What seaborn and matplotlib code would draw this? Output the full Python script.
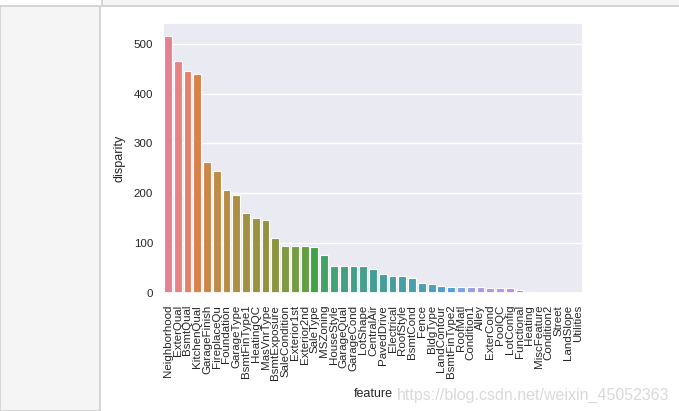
import numpy as np
import pandas as pd
import matplotlib
matplotlib.use("Agg")
import matplotlib.pyplot as plt
from matplotlib.patches import Rectangle
import seaborn as sns

# --------------------------
# Data
# --------------------------
features = ['Neighborhood', 'ExterQual', 'BsmtQual', 'KitchenQual', 'GarageFinish',
            'FireplaceQu', 'Foundation', 'GarageType', 'BsmtFinType1', 'HeatingQC',
            'MasVnrType', 'BsmtExposure', 'SaleCondition', 'Exterior1st', 'Exterior2nd',
            'SaleType', 'MSZoning', 'HouseStyle', 'GarageQual', 'GarageCond',
            'LotShape', 'CentralAir', 'PavedDrive', 'Electrical', 'RoofStyle',
            'BsmtCond', 'Fence', 'BldgType', 'LandContour', 'BsmtFinType2',
            'RoofMatl', 'Condition1', 'Alley', 'ExterCond', 'PoolQC',
            'LotConfig', 'Functional', 'Heating', 'MiscFeature', 'Condition2',
            'Street', 'LandSlope', 'Utilities']
disparity = [516, 466, 446, 439, 262,
             244, 206, 196, 161, 151,
             146, 111, 95, 95, 95,
             93, 76, 54, 54, 54,
             54, 48, 38, 35, 35,
             31, 21, 18, 15, 13,
             13, 13, 13, 10, 10,
             10, 6, 3, 1, 1,
             0.5, 0.5, 0]

df = pd.DataFrame({'feature': features, 'disparity': disparity})

# --------------------------
# Style
# --------------------------
sns.set_theme(style='darkgrid', context='notebook', font_scale=0.75)
plt.rcParams['font.family'] = ['Liberation Sans', 'DejaVu Sans']
plt.rcParams['xtick.major.size'] = 0
plt.rcParams['ytick.major.size'] = 0
plt.rcParams['xtick.major.pad'] = 8.5
plt.rcParams['ytick.major.pad'] = 7

fig = plt.figure(figsize=(6.79, 4.11), dpi=100)

# notebook frame around the output cell
fig.patches.append(Rectangle((0, 0), 100 / 679, 405 / 411, transform=fig.transFigure,
                             facecolor='#f5f5f5', edgecolor='#cfcfcf', lw=1.2, zorder=0))
fig.patches.append(Rectangle((102 / 679, 405 / 411), 580 / 679, 10 / 411, transform=fig.transFigure,
                             facecolor='#f5f5f5', edgecolor='#cfcfcf', lw=1.2, zorder=0))

ax = fig.add_axes([163 / 679, 118 / 411, 420 / 679, 270 / 411])
sns.barplot(data=df, x='feature', y='disparity', hue='feature', palette='husl',
            legend=False, saturation=0.75, edgecolor='white', linewidth=0.8, ax=ax)
ax.set_yticks([0, 100, 200, 300, 400, 500])
plt.xticks(rotation=90)
ax.set_xlabel('feature', labelpad=6)
ax.set_ylabel('disparity', labelpad=6)

# blog watermark
fig.text(669 / 679, 16 / 411, 'https://blog.csdn.net/weixin_45052363', ha='right', va='center',
         fontsize=11.5, color='#d9d9d9')

plt.savefig('out.png', dpi=100)
